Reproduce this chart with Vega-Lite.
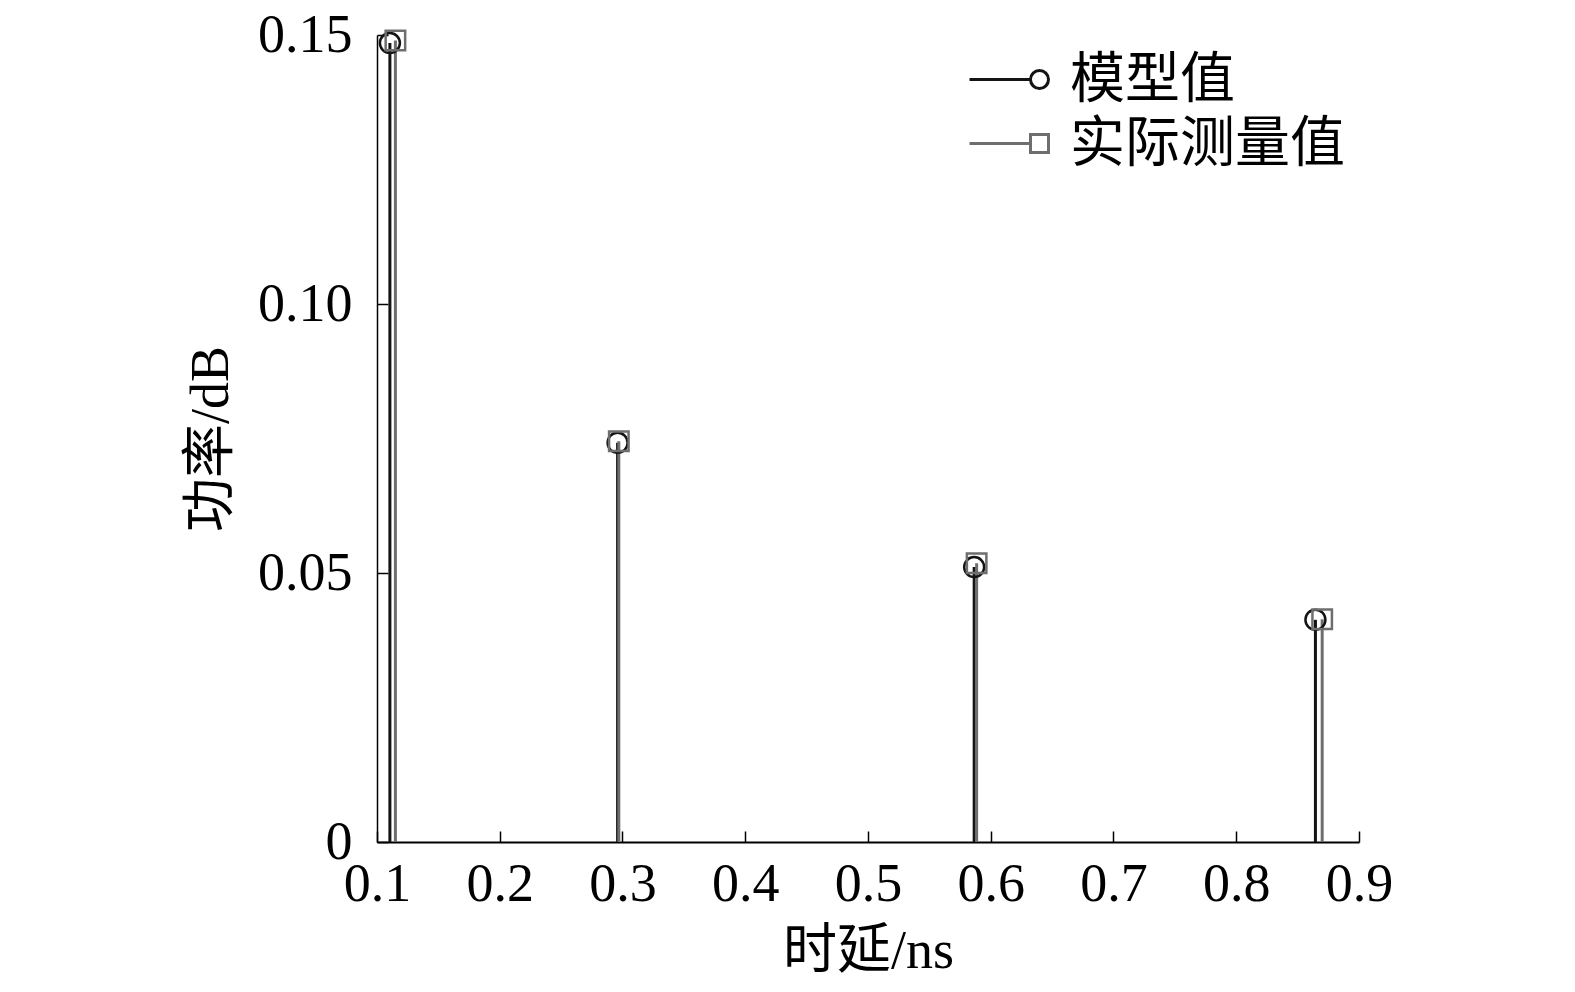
{
  "$schema": "https://vega.github.io/schema/vega-lite/v6.json",
  "width": 982,
  "height": 807,
  "autosize": {"type": "none"},
  "padding": {"left": 377, "top": 35, "right": 216, "bottom": 150},
  "background": "white",
  "config": {
    "view": {"stroke": null},
    "font": "Liberation Serif, Noto Sans CJK SC",
    "axis": {
      "grid": false,
      "domainColor": "#000",
      "tickColor": "#000",
      "labelColor": "#000",
      "titleColor": "#000",
      "titleFontWeight": "normal",
      "labelFont": "Liberation Serif, Noto Sans CJK SC",
      "titleFont": "Liberation Serif, Noto Sans CJK SC",
      "labelFontSize": 54,
      "titleFontSize": 54,
      "tickSize": -11,
      "labelFlush": false,
      "labelOverlap": false
    },
    "legend": {
      "orient": "none",
      "legendX": 635,
      "legendY": 17,
      "labelFontSize": 55,
      "labelFont": "Liberation Serif, Noto Sans CJK SC",
      "labelColor": "#000",
      "labelLimit": 500,
      "symbolSize": 400,
      "symbolStrokeWidth": 3,
      "symbolOpacity": 1,
      "symbolFillColor": "transparent",
      "labelOffset": 3,
      "rowPadding": 8,
      "padding": 0
    }
  },
  "data": {
    "values": [
      {"delay": 0.1105, "power": 0.1485, "series": "模型值"},
      {"delay": 0.2960, "power": 0.0742, "series": "模型值"},
      {"delay": 0.5865, "power": 0.0511, "series": "模型值"},
      {"delay": 0.8645, "power": 0.0413, "series": "模型值"},
      {"delay": 0.1150, "power": 0.1490, "series": "实际测量值"},
      {"delay": 0.2970, "power": 0.0745, "series": "实际测量值"},
      {"delay": 0.5885, "power": 0.0518, "series": "实际测量值"},
      {"delay": 0.8700, "power": 0.0414, "series": "实际测量值"}
    ]
  },
  "encoding": {
    "x": {
      "field": "delay",
      "type": "quantitative",
      "scale": {"domain": [0.1, 0.9], "nice": false, "zero": false},
      "axis": {
        "values": [0.1, 0.2, 0.3, 0.4, 0.5, 0.6, 0.7, 0.8, 0.9],
        "format": ".1f",
        "title": "时延/ns",
        "labelPadding": 26,
        "titlePadding": 13,
        "domainWidth": 2,
        "tickWidth": 1.5
      }
    },
    "y": {
      "field": "power",
      "type": "quantitative",
      "scale": {"domain": [0, 0.15], "nice": false},
      "axis": {
        "values": [0, 0.05, 0.1, 0.15],
        "labelExpr": "datum.value == 0 ? '0' : format(datum.value, '.2f')",
        "title": "功率/dB",
        "labelPadding": 36,
        "titlePadding": 19,
        "domainWidth": 1.5,
        "tickWidth": 1.5
      }
    },
    "stroke": {
      "field": "series",
      "type": "nominal",
      "scale": {"domain": ["模型值", "实际测量值"], "range": ["#141414", "#6e6e6e"]},
      "legend": {"title": null}
    }
  },
  "layer": [
    {
      "mark": {"type": "rule", "strokeWidth": 3},
      "encoding": {
        "y2": {"datum": 0}
      }
    },
    {
      "transform": [{"filter": "datum.series === '模型值'"}],
      "mark": {"type": "point", "shape": "circle", "filled": false, "opacity": 1, "strokeWidth": 2.5, "size": 400}
    },
    {
      "transform": [{"filter": "datum.series === '实际测量值'"}],
      "mark": {"type": "point", "shape": "square", "filled": false, "opacity": 1, "strokeWidth": 2.5, "size": 380}
    },
    {
      "transform": [{"filter": "false"}],
      "mark": {"type": "point", "filled": false, "opacity": 1, "strokeWidth": 3},
      "encoding": {
        "shape": {
          "field": "series",
          "type": "nominal",
          "scale": {
            "domain": ["模型值", "实际测量值"],
            "range": [
              "M-7,0L-0.9,0M0.9,0A0.9,0.9 0 1 1 -0.9,0A0.9,0.9 0 1 1 0.9,0",
              "M-7,0L-0.9,0M-0.9,-0.9L0.9,-0.9L0.9,0.9L-0.9,0.9Z"
            ]
          },
          "legend": {"title": null}
        }
      }
    }
  ]
}
